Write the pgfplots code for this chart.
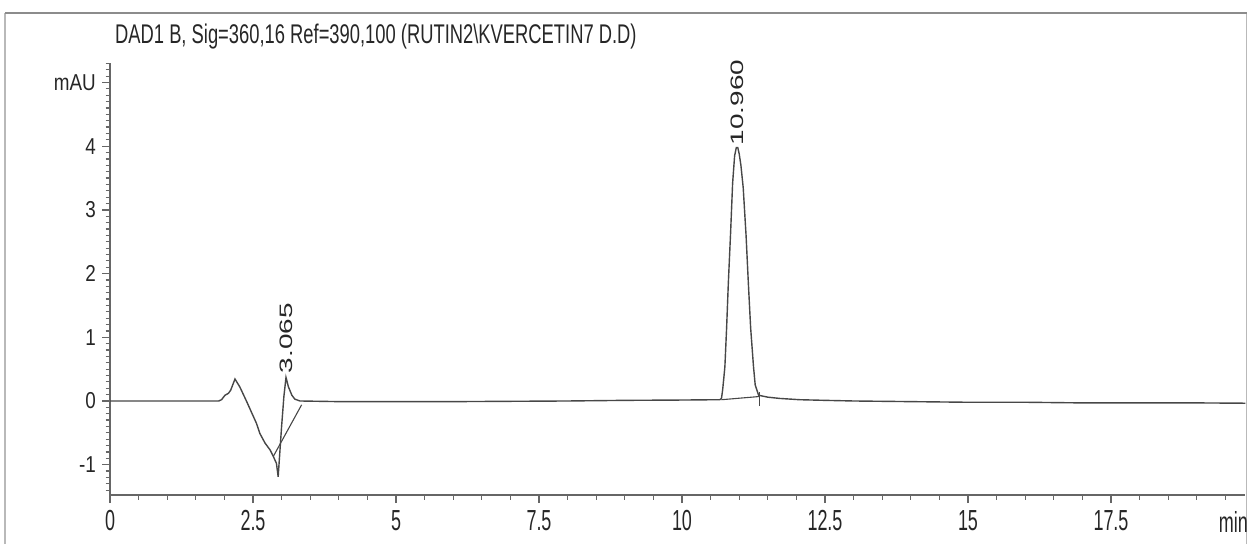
\documentclass[border=0pt]{standalone}
\usepackage{pgfplots}
\pgfplotsset{compat=1.18}
\usepackage{fontspec}
\setmainfont{Liberation Sans}
\newfontfamily\titlef[FakeStretch=0.68]{Liberation Sans}
\newfontfamily\xtf[FakeStretch=0.62]{Liberation Sans}
\newfontfamily\ytf[FakeStretch=0.82]{Liberation Sans}
\newfontfamily\pkf[FakeStretch=1.55]{Liberation Sans}
\definecolor{sig}{gray}{0.28}
\definecolor{ax}{gray}{0.40}
\begin{document}
\begin{tikzpicture}
\useasboundingbox (0,0) rectangle (1249pt,544pt);
% outer frame
\draw[gray!55, line width=1.2pt] (5pt,0pt) -- (5pt,531pt);
\draw[gray!55, line width=1.2pt] (1246.5pt,0pt) -- (1246.5pt,532pt);
\draw[black!45, line width=2.5pt] (5pt,531pt) -- (1246.5pt,531pt);
% title
\node[anchor=base west, inner sep=0pt, text=black!85] at (115pt,500pt) {\titlef\fontsize{27}{27}\selectfont DAD1 B, Sig=360,16 Ref=390,100 (RUTIN2\textbackslash KVERCETIN7 D.D)};
\begin{axis}[
  at={(110pt,49pt)}, anchor=south west,
  scale only axis, width=1135.4pt, height=431.6pt,
  xmin=0, xmax=19.85, ymin=-1.476, ymax=5.3,
  axis x line=bottom, axis y line=left,
  axis line style={-, ax, line width=1.6pt},
  every tick/.style={ax, line width=1.2pt},
  tick align=outside,
  major tick length=8pt, minor tick length=4.5pt,
  xtick={0,2.5,5,7.5,10,12.5,15,17.5},
  xticklabels={0,2.5,5,7.5,10,12.5,15,17.5},
  minor xtick={0.5,1,...,19.5},
  ytick={-1,0,1,2,3,4,5},
  yticklabels={-1,0,1,2,3,4,mAU},
  minor ytick={-1.4,-1.3,...,5.25},
  xticklabel style={font=\xtf\fontsize{29}{29}\selectfont, inner sep=0pt, anchor=north, yshift=-7pt, text=black!85},
  yticklabel style={font=\ytf\fontsize{23}{23}\selectfont, inner sep=0pt, anchor=east, xshift=-6pt, text=black!85},
  clip=false,
]
\addplot[sig, line width=1.4pt] coordinates {
(0,0) (1.0,0.0) (1.9,0.0) (1.95,0.02) (2.01,0.09) (2.07,0.12) (2.11,0.17)
(2.185,0.345) (2.27,0.22) (2.39,-0.01) (2.48,-0.19) (2.56,-0.35) (2.62,-0.51)
(2.71,-0.66) (2.80,-0.77) (2.855,-0.87) (2.91,-0.98) (2.94,-1.19) (3.00,-0.40)
(3.04,0.07) (3.077,0.37) (3.12,0.22) (3.18,0.09) (3.23,0.03) (3.32,0.0)
(4,-0.01) (5,-0.01) (6,-0.01) (7,-0.005) (8,0.0) (9,0.01) (10,0.015)
(10.6,0.02) (10.66,0.02) (10.69,0.04) (10.71,0.17) (10.73,0.35) (10.75,0.54)
(10.78,1.15) (10.81,1.85) (10.85,2.65) (10.885,3.42) (10.92,3.85) (10.95,3.98)
(10.975,3.98) (11.00,3.88) (11.03,3.70) (11.07,3.35) (11.12,2.6) (11.16,1.85)
(11.20,1.15) (11.25,0.54) (11.28,0.25) (11.34,0.09) (11.5,0.06) (11.71,0.04)
(12.06,0.02) (12.5,0.01) (13,0.0) (14,-0.01) (15,-0.02) (16,-0.02) (17,-0.03)
(18,-0.03) (19,-0.03) (19.85,-0.035)
};
% integration baselines and marks
\addplot[sig, line width=1.1pt] coordinates {(2.855,-0.87) (3.35,-0.06)};
\addplot[sig, line width=1.1pt] coordinates {(10.69,0.02) (11.35,0.07)};
\addplot[sig, line width=1.1pt] coordinates {(11.35,-0.08) (11.35,0.14)};
% peak labels
\node[rotate=90, anchor=west, inner sep=0pt, text=black!85, xshift=4pt] at (axis cs:3.077,0.37) {\pkf\fontsize{18}{18}\selectfont 3.065};
\node[rotate=90, anchor=west, inner sep=0pt, text=black!85, xshift=2pt] at (axis cs:10.965,3.98) {\pkf\fontsize{18}{18}\selectfont 10.960};
\end{axis}
\node[anchor=base east, inner sep=0pt, text=black!85] at (1248pt,12pt) {\xtf\fontsize{29}{29}\selectfont min};
\end{tikzpicture}
\end{document}
